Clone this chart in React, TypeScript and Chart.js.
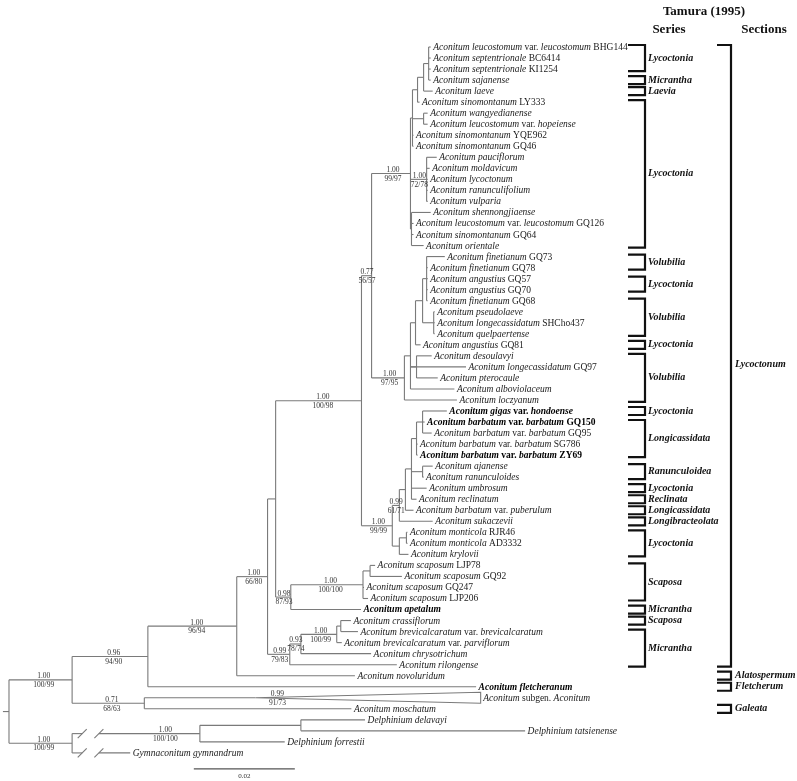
import React, { useEffect, useRef } from 'react';
import { Chart, registerables } from 'chart.js';

Chart.register(...registerables);

// ---------- DATA ----------
const tipNames: string[] = [
  '_Aconitum leucostomum_ var. _leucostomum_ BHG144',
  '_Aconitum septentrionale_ BC6414',
  '_Aconitum septentrionale_ KI1254',
  '_Aconitum sajanense_',
  '_Aconitum laeve_',
  '_Aconitum sinomontanum_ LY333',
  '_Aconitum wangyedianense_',
  '_Aconitum leucostomum_ var. _hopeiense_',
  '_Aconitum sinomontanum_ YQE962',
  '_Aconitum sinomontanum_ GQ46',
  '_Aconitum pauciflorum_',
  '_Aconitum moldavicum_',
  '_Aconitum lycoctonum_',
  '_Aconitum ranunculifolium_',
  '_Aconitum vulparia_',
  '_Aconitum shennongjiaense_',
  '_Aconitum leucostomum_ var. _leucostomum_ GQ126',
  '_Aconitum sinomontanum_ GQ64',
  '_Aconitum orientale_',
  '_Aconitum finetianum_ GQ73',
  '_Aconitum finetianum_ GQ78',
  '_Aconitum angustius_ GQ57',
  '_Aconitum angustius_ GQ70',
  '_Aconitum finetianum_ GQ68',
  '_Aconitum pseudolaeve_',
  '_Aconitum longecassidatum_ SHCho437',
  '_Aconitum quelpaertense_',
  '_Aconitum angustius_ GQ81',
  '_Aconitum desoulavyi_',
  '_Aconitum longecassidatum_ GQ97',
  '_Aconitum pterocaule_',
  '_Aconitum alboviolaceum_',
  '_Aconitum loczyanum_',
  '_Aconitum gigas_ var. _hondoense_',
  '_Aconitum barbatum_ var. _barbatum_ GQ150',
  '_Aconitum barbatum_ var. _barbatum_ GQ95',
  '_Aconitum barbatum_ var. _barbatum_ SG786',
  '_Aconitum barbatum_ var. _barbatum_ ZY69',
  '_Aconitum ajanense_',
  '_Aconitum ranunculoides_',
  '_Aconitum umbrosum_',
  '_Aconitum reclinatum_',
  '_Aconitum barbatum_ var. _puberulum_',
  '_Aconitum sukaczevii_',
  '_Aconitum monticola_ RJR46',
  '_Aconitum monticola_ AD3332',
  '_Aconitum krylovii_',
  '_Aconitum scaposum_ LJP78',
  '_Aconitum scaposum_ GQ92',
  '_Aconitum scaposum_ GQ247',
  '_Aconitum scaposum_ LJP206',
  '_Aconitum apetalum_',
  '_Aconitum crassiflorum_',
  '_Aconitum brevicalcaratum_ var. _brevicalcaratum_',
  '_Aconitum brevicalcaratum_ var. _parviflorum_',
  '_Aconitum chrysotrichum_',
  '_Aconitum rilongense_',
  '_Aconitum novoluridum_',
  '_Aconitum fletcheranum_',
  '_Aconitum_ subgen. _Aconitum_',
  '_Aconitum moschatum_',
  '_Delphinium delavayi_',
  '_Delphinium tatsienense_',
  '_Delphinium forrestii_',
  '_Gymnaconitum gymnandrum_',
];
const boldTips: number[] = [33, 34, 37, 51, 58];

const tipParents: string[] = [
  'Y1a', 'Y1a', 'Y1a', 'Y1a', 'Y1b', 'Y1', 'Y2', 'Y2', 'Y', 'Y',
  'Z', 'Z', 'Z', 'Z', 'Z', 'AA', 'AA', 'AA', 'AA',
  'V1', 'V1', 'V1', 'V1', 'V1', 'V2', 'V2', 'V2', 'V', 'W1', 'U', 'W1', 'U', 'T',
  'S1a1', 'S1a1', 'S1a1', 'S1d', 'S1d', 'S1a3', 'S1a3', 'S1c', 'S1c', 'S1b', 'S1',
  'S2a', 'S2a', 'S2',
  'K', 'K', 'J', 'J', 'I', 'N', 'N', 'M', 'L', 'H', 'E', 'C', 'D', 'D',
  'Q', 'Q', 'P', 'O',
];
const tipLengths: number[] = [
  0.0004, 0.0004, 0.0004, 0.0004, 0.0018, 0.0004, 0.0008, 0.0008, 0.0002, 0.0002,
  0.0020, 0.0006, 0.0002, 0.0002, 0.0002, 0.0038, 0.0004, 0.0004, 0.0024,
  0.0036, 0.0002, 0.0002, 0.0002, 0.0002, 0.0002, 0.0002, 0.0002, 0.0010, 0.0030, 0.0110, 0.0042, 0.0087, 0.0104,
  0.0048, 0.0004, 0.0018, 0.0002, 0.0002, 0.0020, 0.0002, 0.0030, 0.0010, 0.0016, 0.0066,
  0.0002, 0.0002, 0.0018,
  0.0010, 0.0063, 0.0002, 0.0010, 0.0139, 0.0020, 0.0034, 0.0010, 0.0139, 0.0212, 0.0234, 0.0650, 0.0220, 0.0410,
  0.0127, 0.0444, 0.0168, 0.0115,
];
// collapsed clade (subgen. Aconitum) depth of its triangle
const collapsedTips: number[] = [59];
const collapsedDepths: number[] = [0.0446];

const nodeIds: string[] = [
  'root', 'B', 'C', 'E', 'F', 'G2', 'G', 'R', 'X', 'Y', 'Y1', 'Y1b', 'Y1a', 'Y2', 'Z', 'AA',
  'T', 'U', 'V', 'V3', 'V1', 'V2', 'W1', 'S', 'S1', 'S1b', 'S1c', 'S1d', 'S1a1', 'S1a3',
  'S2', 'S2a', 'I', 'J', 'K', 'H', 'L', 'M', 'N', 'D', 'O', 'P', 'Q',
];
const nodeParents: (string | null)[] = [
  null, 'root', 'B', 'C', 'E', 'F', 'G2', 'G', 'R', 'X', 'Y', 'Y1', 'Y1b', 'Y', 'X', 'X',
  'R', 'T', 'U', 'V', 'V3', 'V3', 'U', 'G', 'S', 'S1', 'S1b', 'S1c', 'S1d', 'S1c',
  'S', 'S2', 'G2', 'I', 'J', 'F', 'H', 'L', 'M', 'B', 'root', 'O', 'P',
];
const nodeLengths: number[] = [
  0, 0.0125, 0.0150, 0.0176, 0.0061, 0.0016, 0.0170, 0.0020, 0.0077, 0.0004, 0.0010, 0.0012, 0.0010, 0.0022, 0.0032, 0.0002,
  0.0065, 0.0012, 0.0010, 0.0014, 0.0008, 0.0022, 0.0012, 0.0061, 0.0014, 0.0012, 0.0012, 0.0010, 0.0012, 0.0022,
  0.0014, 0.0014, 0.0030, 0.0143, 0.0014, 0.0044, 0.0022, 0.0071, 0.0008, 0.0143, 0.0125, 0.0253, 0.0200,
];

const supportNodes: string[] = ['B', 'C', 'E', 'F', 'G', 'R', 'X', 'Z', 'T', 'S', 'S1', 'I', 'J', 'H', 'L', 'M', 'D', 't59', 'O', 'P'];
const supportPP: string[] = ['1.00', '0.96', '1.00', '1.00', '1.00', '0.77', '1.00', '1.00', '1.00', '1.00', '0.99', '0.98', '1.00', '0.99', '0.93', '1.00', '0.71', '0.99', '1.00', '1.00'];
const supportBS: string[] = ['100/99', '94/90', '96/94', '66/80', '100/98', '56/57', '99/97', '72/78', '97/95', '99/99', '61/71', '87/93', '100/100', '79/83', '78/74', '100/99', '68/63', '91/73', '100/99', '100/100'];

const brokenBranches: string[] = ['P', 't64'];

const seriesNames: string[] = ['Lycoctonia', 'Micrantha', 'Laevia', 'Lycoctonia', 'Volubilia', 'Lycoctonia', 'Volubilia', 'Lycoctonia', 'Volubilia', 'Lycoctonia', 'Longicassidata', 'Ranunculoidea', 'Lycoctonia', 'Reclinata', 'Longicassidata', 'Longibracteolata', 'Lycoctonia', 'Scaposa', 'Micrantha', 'Scaposa', 'Micrantha'];
const seriesFirst: number[] = [0, 3, 4, 5, 19, 21, 23, 27, 28, 33, 34, 38, 40, 41, 42, 43, 44, 47, 51, 52, 53];
const seriesLast: number[] = [2, 3, 4, 18, 20, 22, 26, 27, 32, 33, 37, 39, 40, 41, 42, 43, 46, 50, 51, 52, 56];

const sectionNames: string[] = ['Lycoctonum', 'Alatospermum', 'Fletcherum', 'Galeata'];
const sectionFirst: number[] = [0, 57, 58, 60];
const sectionLast: number[] = [56, 57, 58, 60];

const scaleBarLength = 0.02;
const scaleBarLabel = '0.02';
const headerTitle = 'Tamura (1995)';
const headerSeries = 'Series';
const headerSections = 'Sections';

// ---------- LAYOUT ----------
const W = 797;
const H = 781;
const FONT = "'Liberation Serif', 'Times New Roman', serif";
const TREE_COLOR = '#7a7a7a';
const X_MIN = -0.00178;
const X_MAX = 0.15604;
const Y_MIN = -4.261;
const Y_MAX = 66.546;
const ROOT_STUB = 0.0012;
const BREAK_A = 0.0020;
const BREAK_B = 0.0053;
const SCALE_START = 0.0366;
const SCALE_ROW = 65.45;
const LABEL_SHIFT: Record<string, number> = { P: 23, t59: 72 };

function buildTree() {
  const x: Record<string, number> = {};
  const parentOf: Record<string, string | null> = {};
  const children: Record<string, string[]> = {};
  nodeIds.forEach((id, i) => {
    const p = nodeParents[i];
    parentOf[id] = p;
    x[id] = p ? x[p] + nodeLengths[i] : 0;
    children[id] = [];
    if (p) children[p].push(id);
  });
  tipNames.forEach((_, i) => {
    const id = 't' + i;
    const p = tipParents[i];
    parentOf[id] = p;
    x[id] = x[p] + tipLengths[i];
    children[p].push(id);
  });
  const y: Record<string, number> = {};
  const span: Record<string, [number, number]> = {};
  const getY = (id: string): number => {
    if (y[id] !== undefined) return y[id];
    if (id.startsWith('t')) {
      y[id] = parseInt(id.slice(1), 10);
      return y[id];
    }
    const ys = children[id].map(getY);
    const lo = Math.min(...ys);
    const hi = Math.max(...ys);
    span[id] = [lo, hi];
    y[id] = (lo + hi) / 2;
    return y[id];
  };
  getY('root');
  return { x, y, span, parentOf };
}

function drawRich(ctx: CanvasRenderingContext2D, text: string, x: number, y: number, size: number, bold: boolean) {
  const parts = text.split('_');
  let cx = x;
  parts.forEach((p, i) => {
    if (!p) return;
    const italic = i % 2 === 1;
    ctx.font = `${italic ? 'italic ' : ''}${bold ? 'bold ' : ''}${size}px ${FONT}`;
    ctx.fillText(p, cx, y);
    cx += ctx.measureText(p).width;
  });
  return cx;
}

export default function App() {
  const ref = useRef<HTMLCanvasElement | null>(null);

  useEffect(() => {
    if (!ref.current) return;
    const tree = buildTree();
    const { x, y, span, parentOf } = tree;
    const seg = (x0: number, y0: number, x1: number, y1: number) => ({
      data: [{ x: x0, y: y0 }, { x: x1, y: y1 }],
      showLine: true,
      borderColor: TREE_COLOR,
      borderWidth: 1.1,
      pointRadius: 0,
      fill: false,
    });
    const datasets: any[] = [];
    // root stub
    datasets.push(seg(-ROOT_STUB, y['root'], 0, y['root']));
    const allIds = [...nodeIds, ...tipNames.map((_, i) => 't' + i)];
    allIds.forEach((id) => {
      const p = parentOf[id];
      if (!p) return;
      if (brokenBranches.includes(id)) {
        datasets.push(seg(x[p], y[id], x[p] + BREAK_A, y[id]));
        datasets.push(seg(x[p] + BREAK_B, y[id], x[id], y[id]));
      } else {
        datasets.push(seg(x[p], y[id], x[id], y[id]));
      }
    });
    Object.keys(span).forEach((id) => {
      datasets.push(seg(x[id], span[id][0], x[id], span[id][1]));
    });
    // collapsed triangles
    collapsedTips.forEach((ti, k) => {
      const id = 't' + ti;
      const ax = x[id];
      const ex = ax + collapsedDepths[k];
      datasets.push({
        data: [
          { x: ax, y: ti },
          { x: ex, y: ti - 0.5 },
          { x: ex, y: ti + 0.5 },
          { x: ax, y: ti },
        ],
        showLine: true,
        borderColor: TREE_COLOR,
        borderWidth: 1.1,
        pointRadius: 0,
        fill: false,
      });
    });
    // scale bar
    datasets.push({
      data: [{ x: SCALE_START, y: SCALE_ROW }, { x: SCALE_START + scaleBarLength, y: SCALE_ROW }],
      showLine: true,
      borderColor: '#555',
      borderWidth: 1.1,
      pointRadius: 0,
    });

    const labelsPlugin = {
      id: 'treeLabels',
      afterDatasetsDraw(chart: any) {
        const ctx: CanvasRenderingContext2D = chart.ctx;
        const sx = chart.scales.x;
        const sy = chart.scales.y;
        const px = (v: number) => sx.getPixelForValue(v);
        const py = (v: number) => sy.getPixelForValue(v);
        ctx.save();
        // tip labels
        ctx.textBaseline = 'middle';
        ctx.textAlign = 'left';
        ctx.fillStyle = '#111';
        tipNames.forEach((name, i) => {
          const id = 't' + i;
          let tx = x[id];
          const ci = collapsedTips.indexOf(i);
          if (ci >= 0) tx += collapsedDepths[ci];
          const bold = boldTips.includes(i);
          ctx.fillStyle = bold ? '#000' : '#1a1a1a';
          drawRich(ctx, name, px(tx) + 2.5, py(i) + 0.5, 9.5, bold);
        });
        // support values
        ctx.fillStyle = '#333';
        ctx.textAlign = 'center';
        ctx.font = `7.5px ${FONT}`;
        supportNodes.forEach((id, k) => {
          const p = parentOf[id];
          if (!p) return;
          const x0 = px(x[p]);
          const x1 = px(x[id]);
          const cx = x0 + 0.55 * (x1 - x0) + (LABEL_SHIFT[id] || 0);
          const cy = py(y[id]);
          ctx.textBaseline = 'alphabetic';
          ctx.fillText(supportPP[k], cx, cy - 1.5);
          ctx.textBaseline = 'top';
          ctx.fillText(supportBS[k], cx, cy + 1.5);
        });
        // break marks
        ctx.strokeStyle = TREE_COLOR;
        ctx.lineWidth = 1.1;
        brokenBranches.forEach((id) => {
          const p = parentOf[id];
          if (!p) return;
          const cy = py(y[id]);
          [BREAK_A, BREAK_B].forEach((b) => {
            const cx = px(x[p] + b);
            ctx.beginPath();
            ctx.moveTo(cx - 4.5, cy + 4.5);
            ctx.lineTo(cx + 4.5, cy - 4.5);
            ctx.stroke();
          });
        });
        // scale bar label
        ctx.fillStyle = '#333';
        ctx.font = `7px ${FONT}`;
        ctx.textAlign = 'center';
        ctx.textBaseline = 'top';
        ctx.fillText(scaleBarLabel, px(SCALE_START + scaleBarLength / 2), py(SCALE_ROW) + 4);

        // brackets
        const drawBracket = (first: number, last: number, x0: number, x1: number) => {
          const single = first === last;
          const top = py(first) - (single ? 4 : 2);
          const bot = py(last) + (single ? 4 : 2);
          ctx.beginPath();
          ctx.moveTo(x0, top);
          ctx.lineTo(x1, top);
          ctx.lineTo(x1, bot);
          ctx.lineTo(x0, bot);
          ctx.stroke();
          return { mid: (top + bot) / 2, single: first === last, big: last - first > 20 };
        };
        ctx.strokeStyle = '#111';
        ctx.lineWidth = 2.2;
        ctx.lineJoin = 'miter';
        ctx.fillStyle = '#111';
        ctx.textAlign = 'left';
        ctx.textBaseline = 'middle';
        seriesNames.forEach((nm, k) => {
          const b = drawBracket(seriesFirst[k], seriesLast[k], 628, 645);
          ctx.font = `italic bold 10px ${FONT}`;
          ctx.fillText(nm, 648, b.mid);
        });
        sectionNames.forEach((nm, k) => {
          const b = drawBracket(sectionFirst[k], sectionLast[k], 717, 731);
          ctx.font = `italic bold 10px ${FONT}`;
          ctx.fillText(nm, 735, b.mid + (b.big ? 9 : 0));
        });
        // headers
        ctx.textAlign = 'center';
        ctx.font = `bold 13px ${FONT}`;
        ctx.fillText(headerTitle, 704, 12);
        ctx.fillText(headerSeries, 669, 30);
        ctx.fillText(headerSections, 764, 30);
        ctx.restore();
      },
    };

    const chart = new Chart(ref.current, {
      type: 'scatter',
      data: { datasets },
      options: {
        animation: false,
        responsive: false,
        maintainAspectRatio: false,
        devicePixelRatio: 1,
        events: [],
        layout: { padding: 0 },
        plugins: { legend: { display: false }, tooltip: { enabled: false } },
        scales: {
          x: { type: 'linear', min: X_MIN, max: X_MAX, display: false },
          y: { type: 'linear', min: Y_MIN, max: Y_MAX, reverse: true, display: false },
        },
      },
      plugins: [labelsPlugin],
    });
    return () => chart.destroy();
  }, []);

  return (
    <div style={{ position: 'absolute', left: 0, top: 0, width: W, height: H, background: '#fff' }}>
      <canvas ref={ref} width={W} height={H} style={{ width: W, height: H, display: 'block' }} />
    </div>
  );
}
